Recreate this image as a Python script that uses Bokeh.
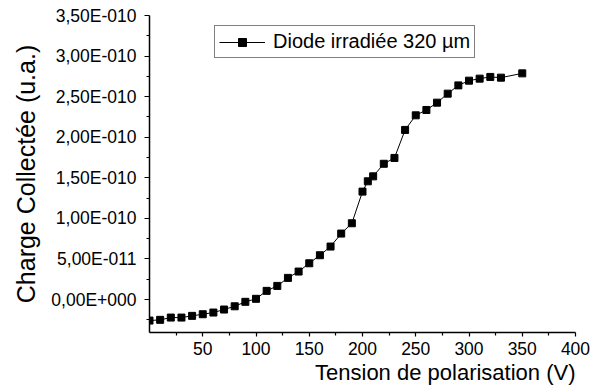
from bokeh.plotting import figure
from bokeh.models import (FixedTicker, CustomJSTickFormatter, Legend, LegendItem,
                          Title, Range1d)
from bokeh.embed import file_html
from bokeh.resources import INLINE

# ---- data ----
voltage = [0, 10, 20, 30, 40, 50, 60, 70, 80, 90, 100, 110, 120, 130, 140, 150,
           160, 170, 180, 190, 200, 205, 210, 220, 230, 240, 250, 260, 270, 280,
           290, 300, 310, 320, 330, 350]
charge = [-0.259e-10, -0.250e-10, -0.222e-10, -0.222e-10, -0.201e-10, -0.181e-10,
          -0.160e-10, -0.123e-10, -0.083e-10, -0.028e-10, 0.009e-10, 0.107e-10,
          0.168e-10, 0.267e-10, 0.345e-10, 0.447e-10, 0.546e-10, 0.653e-10,
          0.813e-10, 0.940e-10, 1.330e-10, 1.457e-10, 1.518e-10, 1.673e-10,
          1.745e-10, 2.090e-10, 2.270e-10, 2.336e-10, 2.426e-10, 2.537e-10,
          2.639e-10, 2.697e-10, 2.722e-10, 2.743e-10, 2.734e-10, 2.787e-10]

x_ticks = [50, 100, 150, 200, 250, 300, 350, 400]
x_minor_ticks = [25, 75, 125, 175, 225, 275, 325, 375]
y_ticks = [0.0, 0.5e-10, 1.0e-10, 1.5e-10, 2.0e-10, 2.5e-10, 3.0e-10, 3.5e-10]
y_minor_ticks = [-0.25e-10, 0.25e-10, 0.75e-10, 1.25e-10, 1.75e-10, 2.25e-10,
                 2.75e-10, 3.25e-10]

series_label = "Diode irradiée 320 µm"
x_title = "Tension de polarisation (V)"
y_title = "Charge Collectée (u.a.)"

FONT = "Liberation Sans"

p = figure(width=591, height=388, output_backend="svg", toolbar_location=None,
           x_range=Range1d(0, 400), y_range=Range1d(-0.406e-10, 3.5e-10),
           min_border_left=149, min_border_right=16, min_border_top=15,
           min_border_bottom=56)
p.outline_line_color = None
p.xgrid.visible = False
p.ygrid.visible = False
p.background_fill_color = "white"
p.border_fill_color = "white"

line_r = p.line(voltage, charge, line_color="black", line_width=1)
sc_r = p.scatter(voltage, charge, marker="square", size=7,
                 fill_color="black", line_color="black")

# axes
xa = p.xaxis[0]
xa.ticker = FixedTicker(ticks=x_ticks, minor_ticks=x_minor_ticks)
ya = p.yaxis[0]
ya.ticker = FixedTicker(ticks=y_ticks, minor_ticks=y_minor_ticks)
ya.formatter = CustomJSTickFormatter(code="""
    const v = tick;
    if (Math.abs(v) < 1e-15) { return "0,00E+000"; }
    const e = Math.floor(Math.log10(Math.abs(v)) + 1e-9);
    const m = v / Math.pow(10, e);
    const ms = m.toFixed(2).replace('.', ',');
    const es = (e < 0 ? '-' : '+') + String(Math.abs(e)).padStart(3, '0');
    return ms + 'E' + es;
""")
for ax in (xa, ya):
    ax.axis_line_color = "black"
    ax.axis_line_width = 1.5
    ax.major_tick_line_color = "black"
    ax.minor_tick_line_color = "black"
    ax.major_tick_line_width = 1.2
    ax.minor_tick_line_width = 1.2
    ax.major_tick_in = 0
    ax.minor_tick_in = 0
    ax.minor_tick_out = 3
    ax.major_label_text_font = FONT
    ax.major_label_text_font_size = "17.5px"
    ax.major_label_text_color = "black"
xa.major_tick_out = 4
ya.major_tick_out = 5
xa.major_label_standoff = 5
ya.major_label_standoff = 8

# axis titles (positioned like the reference)
p.add_layout(Title(text=x_title, align="right", text_font=FONT,
                   text_font_size="22px", text_font_style="normal",
                   text_color="black", standoff=0), "below")
p.add_layout(Title(text=y_title, align="center", offset=40, text_font=FONT,
                   text_font_size="25px", text_font_style="normal",
                   text_color="black", standoff=18), "left")

legend = Legend(items=[LegendItem(label=series_label, renderers=[line_r, sc_r])],
                location=(65, 274), orientation="vertical",
                label_text_font=FONT, label_text_font_size="20px",
                label_text_color="black",
                border_line_color="black", border_line_width=1,
                background_fill_color="white", background_fill_alpha=1,
                padding=4, spacing=0, margin=0,
                glyph_width=46, glyph_height=20, label_standoff=8)
p.add_layout(legend)

open("out.html", "w").write(file_html(p, INLINE))
